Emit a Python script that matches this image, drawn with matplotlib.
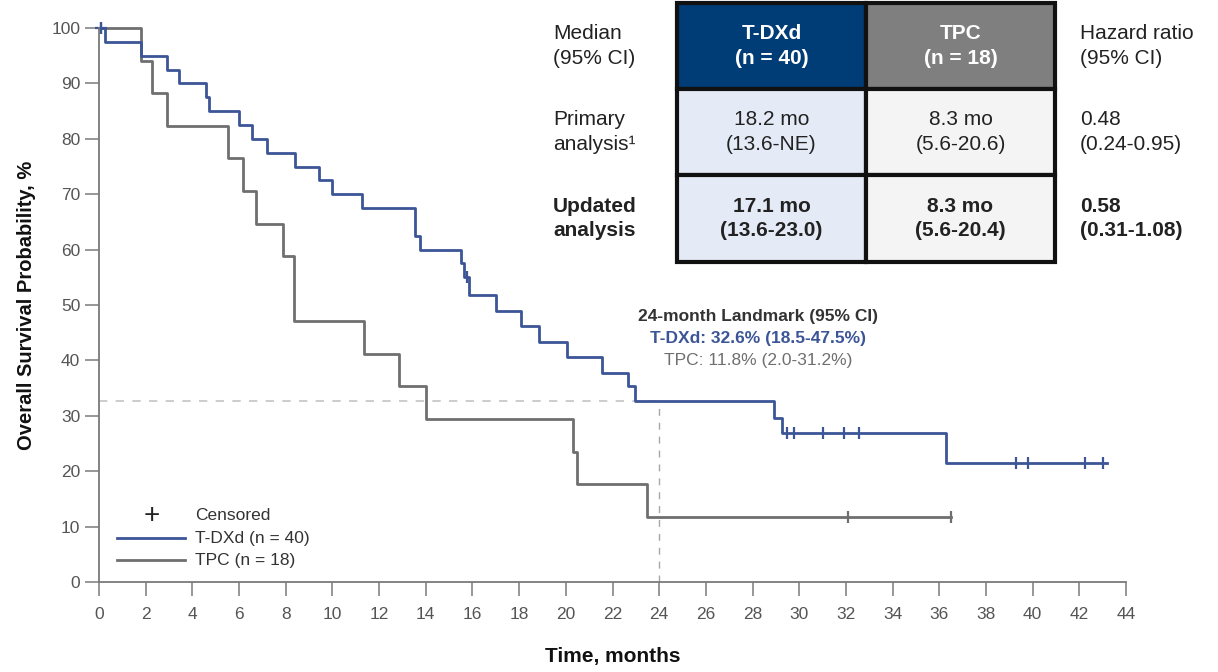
import numpy as np
import matplotlib.pyplot as plt
from matplotlib.patches import Rectangle

plt.rcParams['font.family'] = ['Liberation Sans', 'DejaVu Sans']

# Kaplan-Meier curves (time in months, survival in %)
tdxd_t = [0, 0.26, 1.79, 2.93, 3.43, 4.58, 4.71, 6.01, 6.55, 7.18, 8.41, 9.43, 10.0,
          11.28, 13.54, 13.75, 15.5, 15.65, 15.85, 17.03, 18.1, 18.87, 20.04, 21.53,
          22.68, 22.97, 28.92, 29.25, 36.29, 43.2]
tdxd_s = [100, 97.5, 95, 92.5, 90, 87.5, 85, 82.5, 80, 77.5, 75, 72.5, 70,
          67.5, 62.5, 60, 57.5, 55, 51.8, 49.0, 46.2, 43.4, 40.6, 37.8,
          35.4, 32.6, 29.6, 26.9, 21.4, 21.4]
tdxd_cens_t = [0.1, 15.75, 29.49, 29.79, 31.0, 31.92, 32.57, 39.3, 39.8, 42.25, 43.0]
tdxd_cens_s = [100, 55, 26.9, 26.9, 26.9, 26.9, 26.9, 21.4, 21.4, 21.4, 21.4]

tpc_t = [0, 1.79, 2.25, 2.93, 5.54, 6.16, 6.71, 7.9, 8.37, 11.37, 12.86, 14.0,
         20.3, 20.5, 23.49, 36.5]
tpc_s = [100, 94.1, 88.2, 82.4, 76.5, 70.6, 64.7, 58.8, 47.1, 41.2, 35.3, 29.4,
         23.5, 17.6, 11.8, 11.8]
tpc_cens_t = [32.1, 36.5]
tpc_cens_s = [11.8, 11.8]

landmark_month = 24
landmark_tdxd = 32.6

x_ticks = np.arange(0, 45, 2)
y_ticks = np.arange(0, 101, 10)

# table content
row_labels = [("Median", "(95% CI)"), ("Primary", "analysis¹"), ("Updated", "analysis")]
hr_labels = [("Hazard ratio", "(95% CI)"), ("0.48", "(0.24-0.95)"), ("0.58", "(0.31-1.08)")]
tdxd_cells = ["T-DXd\n(n = 40)", "18.2 mo\n(13.6-NE)", "17.1 mo\n(13.6-23.0)"]
tpc_cells = ["TPC\n(n = 18)", "8.3 mo\n(5.6-20.6)", "8.3 mo\n(5.6-20.4)"]

blue = '#3c5597'
gray = '#6f6f6f'
axis_col = '#7a7a7a'
tick_col = '#555555'

fig = plt.figure(figsize=(12.18, 6.72), dpi=100)
ax = fig.add_axes([99 / 1218, 90 / 672, 1027 / 1218, 554 / 672])

# reference lines at 24 months
ax.plot([0, landmark_month], [landmark_tdxd, landmark_tdxd], ls=(0, (5, 5)), color='#c4c4c4', lw=1.2)
ax.plot([landmark_month, landmark_month], [0, landmark_tdxd], ls=(0, (5, 5)), color='#a8a8a8', lw=1.0)

ax.step(tpc_t, tpc_s, where='post', color=gray, lw=2, clip_on=False)
ax.step(tdxd_t, tdxd_s, where='post', color=blue, lw=2, clip_on=False)
ax.plot(tpc_cens_t, tpc_cens_s, ls='none', marker='|', ms=9, mew=1.6, color=gray, clip_on=False)
ax.plot(tdxd_cens_t, tdxd_cens_s, ls='none', marker='|', ms=9, mew=1.6, color=blue, clip_on=False)
ax.plot([0.1], [100], ls='none', marker='+', ms=9, mew=1.6, color=blue, clip_on=False)

ax.set_xlim(0, 44)
ax.set_ylim(0, 100)
ax.set_xticks(x_ticks)
ax.set_yticks(y_ticks)
for s in ['top', 'right']:
    ax.spines[s].set_visible(False)
for s in ['left', 'bottom']:
    ax.spines[s].set_color(axis_col)
    ax.spines[s].set_linewidth(1.3)
ax.tick_params(axis='both', colors=axis_col, labelcolor=tick_col, labelsize=12.5,
               length=10, width=1.1, direction='out')
ax.tick_params(axis='x', pad=8)
ax.set_xlabel('Time, months', fontsize=15, fontweight='bold', labelpad=18, color='#111111')
ax.set_ylabel('Overall Survival Probability, %', fontsize=14.5, fontweight='bold',
              labelpad=11, color='#111111')

# legend (hand drawn)
fig.text(152 / 1218, 1 - 516 / 672, '+', fontsize=20, ha='center', va='center', color='#222222')
fig.text(195 / 1218, 1 - 516 / 672, 'Censored', fontsize=12.5, va='center', color='#333333')
fig.add_artist(plt.Line2D([117 / 1218, 185 / 1218], [1 - 538 / 672] * 2, color=blue, lw=2))
fig.add_artist(plt.Line2D([117 / 1218, 185 / 1218], [1 - 560 / 672] * 2, color=gray, lw=2))
fig.text(195 / 1218, 1 - 538 / 672, 'T-DXd (n = 40)', fontsize=12.5, va='center', color='#333333')
fig.text(195 / 1218, 1 - 560 / 672, 'TPC (n = 18)', fontsize=12.5, va='center', color='#333333')

# landmark annotation
lx = 758 / 1218
fig.text(lx, 1 - 316 / 672, '24-month Landmark (95% CI)', fontsize=12.5, fontweight='bold',
         ha='center', va='center', color='#333333')
fig.text(lx, 1 - 339 / 672, 'T-DXd: 32.6% (18.5-47.5%)', fontsize=12.5, fontweight='bold',
         ha='center', va='center', color=blue)
fig.text(lx, 1 - 361 / 672, 'TPC: 11.8% (2.0-31.2%)', fontsize=12.5,
         ha='center', va='center', color=gray)

# summary table
W, H = 1218, 672
col_x = [677, 866, 1055]
row_y = [3, 89, 175, 262]
fills = [('#003c75', '#7f7f7f'), ('#e5ebf6', '#f4f4f4'), ('#e5ebf6', '#f4f4f4')]
for r in range(3):
    for c in range(2):
        x0, x1 = col_x[c], col_x[c + 1]
        y0, y1 = row_y[r], row_y[r + 1]
        fig.add_artist(Rectangle((x0 / W, 1 - y1 / H), (x1 - x0) / W, (y1 - y0) / H,
                                 transform=fig.transFigure, facecolor=fills[r][c],
                                 edgecolor='#111111', lw=3))
        txt = [tdxd_cells, tpc_cells][c][r]
        weight = 'bold' if r != 1 else 'normal'
        color = 'white' if r == 0 else '#222222'
        fig.text((x0 + x1) / 2 / W, 1 - (y0 + y1) / 2 / H, txt, ha='center', va='center',
                 fontsize=15, fontweight=weight, color=color, linespacing=1.35)
    ym = (row_y[r] + row_y[r + 1]) / 2
    weight = 'bold' if r == 2 else 'normal'
    fig.text(553 / W, 1 - ym / H, row_labels[r][0] + '\n' + row_labels[r][1], ha='left',
             va='center', fontsize=15, fontweight=weight, color='#222222', linespacing=1.35)
    fig.text(1080 / W, 1 - ym / H, hr_labels[r][0] + '\n' + hr_labels[r][1], ha='left',
             va='center', fontsize=15, fontweight=weight, color='#222222', linespacing=1.35)

fig.savefig('out.png', dpi=100)
